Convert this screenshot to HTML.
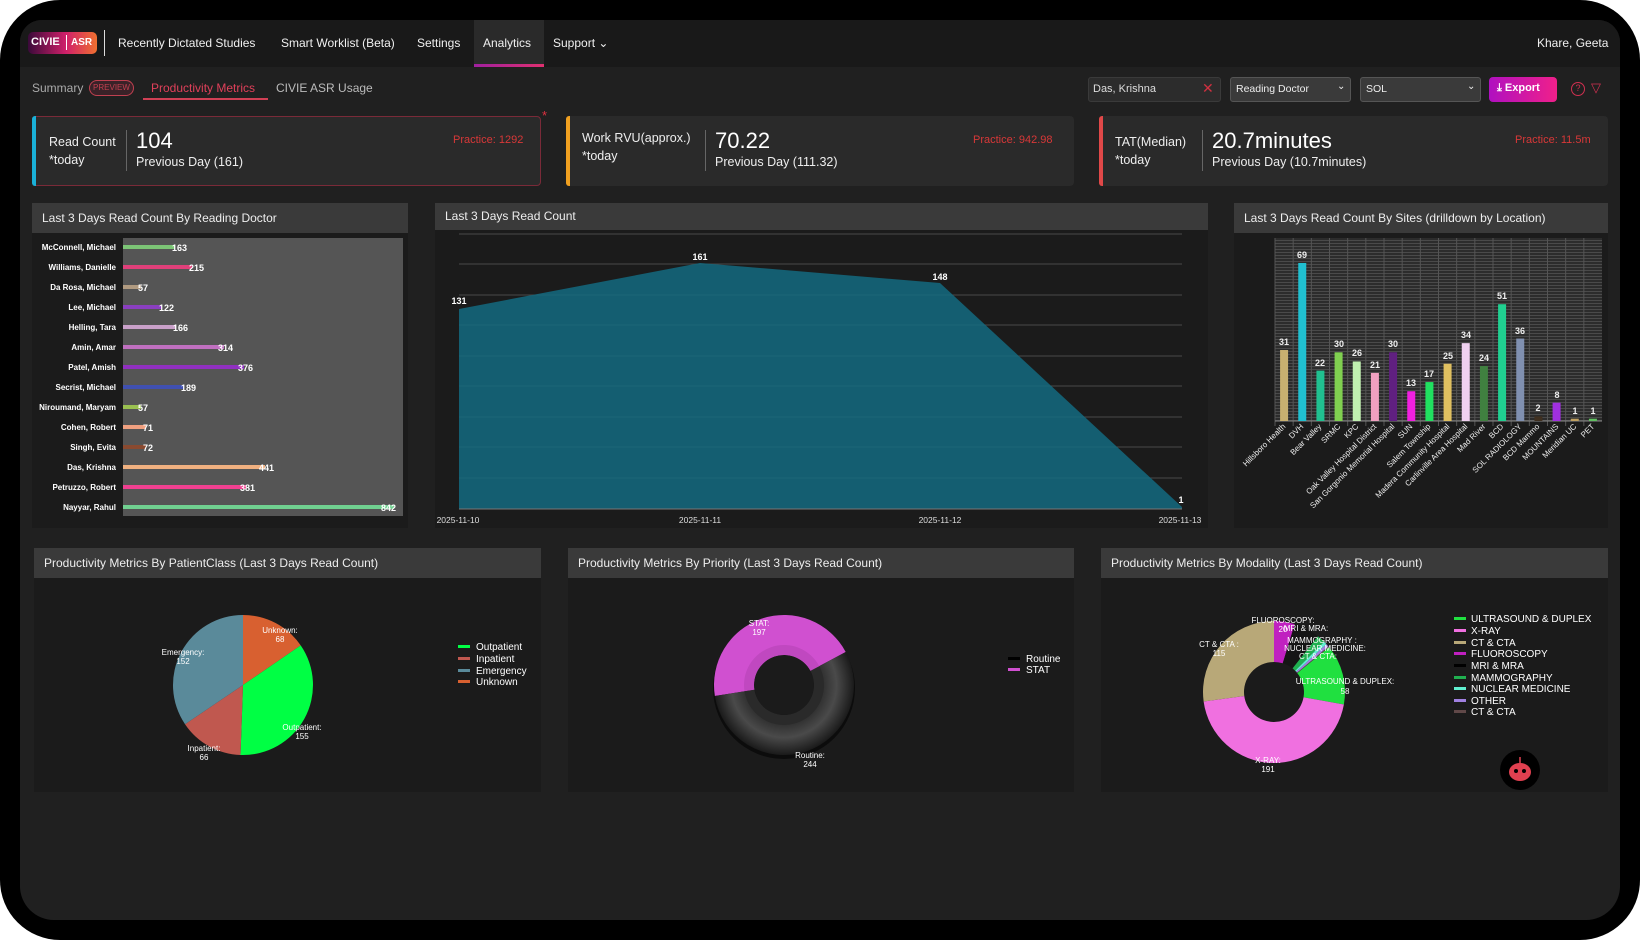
<!DOCTYPE html>
<html><head><meta charset="utf-8">
<style>
*{margin:0;padding:0;box-sizing:border-box}
html,body{width:1640px;height:940px;overflow:hidden;background:#fff;font-family:"Liberation Sans",sans-serif}
#frame{position:absolute;left:0;top:0;width:1640px;height:940px;background:#000;border-radius:60px}
#screen{position:absolute;left:20px;top:20px;width:1600px;height:900px;background:#202020;border-radius:22px 22px 34px 34px;overflow:hidden}
.a{position:absolute;white-space:nowrap}
#nav{position:absolute;left:20px;top:20px;width:1600px;height:47px;background:#191919;border-radius:22px 22px 0 0}
.nt{color:#f0f0f0;font-size:12px;top:36px}
.card{position:absolute;top:116px;height:70px;background:#2a2a2a;border-radius:4px}
.panel{position:absolute;background:#1b1b1b}
.ph{position:absolute;left:0;right:0;top:0;background:#3a3a3a;color:#eee;font-size:12px;padding-left:10px}
</style></head><body>
<div id="frame"></div>
<div id="screen"></div>
<div id="nav"></div>
<div class="a" style="left:28px;top:32px;width:69px;height:22px;border-radius:5px;background:linear-gradient(90deg,#3a0a3a,#d0206a 55%,#f07030);"></div>
<div class="a" style="left:31px;top:36px;color:#fff;font-size:11px;font-weight:bold">CIVIE</div>
<div class="a" style="left:66px;top:35px;width:1px;height:15px;background:#fff"></div>
<div class="a" style="left:71px;top:37px;color:#fff;font-size:10px;font-weight:bold">ASR</div>
<div class="a" style="left:104px;top:30px;width:1px;height:26px;background:#ddd"></div>
<div class="a nt" style="left:118px">Recently Dictated Studies</div>
<div class="a nt" style="left:281px">Smart Worklist (Beta)</div>
<div class="a nt" style="left:417px">Settings</div>
<div class="a" style="left:474px;top:20px;width:70px;height:47px;background:#2a2a2a"></div>
<div class="a" style="left:474px;top:64px;width:70px;height:3px;background:linear-gradient(90deg,#a020a0,#e03070)"></div>
<div class="a nt" style="left:483px">Analytics</div>
<div class="a nt" style="left:553px">Support &#8964;</div>
<div class="a nt" style="left:1537px;font-size:12px">Khare, Geeta</div>

<div class="a" style="left:32px;top:81px;color:#aaa;font-size:12px">Summary</div>
<div class="a" style="left:89px;top:80px;width:45px;height:16px;border:1px solid #c04050;border-radius:8px;background:#3a2228;color:#c04050;font-size:8px;line-height:14px;text-align:center">PREVIEW</div>
<div class="a" style="left:151px;top:81px;color:#e0405a;font-size:12px">Productivity Metrics</div>
<div class="a" style="left:143px;top:98px;width:125px;height:2px;background:#d04055"></div>
<div class="a" style="left:276px;top:81px;color:#bbb;font-size:12px">CIVIE ASR Usage</div>

<div class="a" style="left:1088px;top:77px;width:133px;height:25px;background:#2c2c2c;border:1px solid #3a3a3a;border-radius:3px"></div>
<div class="a" style="left:1093px;top:83px;color:#ddd;font-size:11px">Das, Krishna</div>
<div class="a" style="left:1202px;top:80px;color:#d03040;font-size:14px">&#10005;</div>
<div class="a" style="left:1230px;top:77px;width:121px;height:25px;background:#3a3a3a;border:1px solid #555;border-radius:3px"></div>
<div class="a" style="left:1236px;top:83px;color:#eee;font-size:10.5px">Reading Doctor</div>
<div class="a" style="left:1337px;top:81px;color:#eee;font-size:10px">&#8964;</div>
<div class="a" style="left:1360px;top:77px;width:121px;height:25px;background:#3a3a3a;border:1px solid #555;border-radius:3px"></div>
<div class="a" style="left:1366px;top:83px;color:#eee;font-size:10.5px">SOL</div>
<div class="a" style="left:1467px;top:81px;color:#eee;font-size:10px">&#8964;</div>
<div class="a" style="left:1489px;top:77px;width:68px;height:25px;background:linear-gradient(90deg,#b010c0,#f0208a);border-radius:4px"></div>
<div class="a" style="left:1497px;top:82px;color:#fff;font-size:11px;font-weight:bold">&#10515; Export</div>
<div class="a" style="left:1571px;top:82px;width:14px;height:14px;border:1.5px solid #d03050;border-radius:50%;color:#d03050;font-size:9px;text-align:center;line-height:11px">?</div>
<div class="a" style="left:1591px;top:80px;color:#d03050;font-size:13px">&#9661;</div>

<div class="card" style="left:32px;width:509px;border:1px solid #7a2a38"></div>
<div class="a" style="left:32px;top:116px;width:4px;height:70px;background:#1ab0d8;border-radius:3px 0 0 3px"></div>
<div class="a" style="left:542px;top:108px;color:#e03040;font-size:13px">*</div>
<div class="a" style="left:49px;top:135px;color:#eee;font-size:12.5px">Read Count</div>
<div class="a" style="left:49px;top:153px;color:#eee;font-size:12.5px">*today</div>
<div class="a" style="left:126px;top:130px;width:1px;height:41px;background:#666"></div>
<div class="a" style="left:136px;top:128px;color:#fff;font-size:22px">104</div>
<div class="a" style="left:136px;top:155px;color:#eee;font-size:12.5px">Previous Day (161)</div>
<div class="a" style="left:453px;top:134px;color:#d83838;font-size:11px">Practice: 1292</div>

<div class="card" style="left:566px;width:508px"></div>
<div class="a" style="left:566px;top:116px;width:4px;height:70px;background:#f0a020;border-radius:3px 0 0 3px"></div>
<div class="a" style="left:582px;top:131px;color:#eee;font-size:12.5px">Work RVU(approx.)</div>
<div class="a" style="left:582px;top:149px;color:#eee;font-size:12.5px">*today</div>
<div class="a" style="left:705px;top:130px;width:1px;height:41px;background:#666"></div>
<div class="a" style="left:715px;top:128px;color:#fff;font-size:22px">70.22</div>
<div class="a" style="left:715px;top:155px;color:#eee;font-size:12.5px">Previous Day (111.32)</div>
<div class="a" style="left:973px;top:134px;color:#d83838;font-size:11px">Practice: 942.98</div>

<div class="card" style="left:1099px;width:509px"></div>
<div class="a" style="left:1099px;top:116px;width:4px;height:70px;background:#e04848;border-radius:3px 0 0 3px"></div>
<div class="a" style="left:1115px;top:135px;color:#eee;font-size:12.5px">TAT(Median)</div>
<div class="a" style="left:1115px;top:153px;color:#eee;font-size:12.5px">*today</div>
<div class="a" style="left:1202px;top:130px;width:1px;height:41px;background:#666"></div>
<div class="a" style="left:1212px;top:128px;color:#fff;font-size:22px">20.7minutes</div>
<div class="a" style="left:1212px;top:155px;color:#eee;font-size:12.5px">Previous Day (10.7minutes)</div>
<div class="a" style="left:1515px;top:134px;color:#d83838;font-size:11px">Practice: 11.5m</div>

<div class="panel" style="left:32px;top:203px;width:376px;height:325px"><div class="ph" style="height:30px;line-height:30px">Last 3 Days Read Count By Reading Doctor</div></div>
<div class="panel" style="left:435px;top:203px;width:773px;height:325px"><div class="ph" style="height:27px;line-height:27px">Last 3 Days Read Count</div></div>
<div class="panel" style="left:1234px;top:203px;width:374px;height:325px"><div class="ph" style="height:30px;line-height:30px">Last 3 Days Read Count By Sites (drilldown by Location)</div></div>
<div class="panel" style="left:34px;top:548px;width:507px;height:244px"><div class="ph" style="height:30px;line-height:30px">Productivity Metrics By PatientClass (Last 3 Days Read Count)</div></div>
<div class="panel" style="left:568px;top:548px;width:506px;height:244px"><div class="ph" style="height:30px;line-height:30px">Productivity Metrics By Priority (Last 3 Days Read Count)</div></div>
<div class="panel" style="left:1101px;top:548px;width:507px;height:244px"><div class="ph" style="height:30px;line-height:30px">Productivity Metrics By Modality (Last 3 Days Read Count)</div></div>

<div class="a" style="left:1275px;top:238px;width:327px;height:183px;background:repeating-linear-gradient(180deg,#2c2c2c 0 2px,#4a4a4a 2px 3px)"></div>

<svg class="a" style="left:0;top:0" width="1640" height="940" font-family="Liberation Sans, sans-serif">
<defs>
<radialGradient id="rg" cx="784" cy="685" r="70" gradientUnits="userSpaceOnUse">
<stop offset="0.45" stop-color="#222"/><stop offset="0.75" stop-color="#4a4a4a"/><stop offset="1" stop-color="#1a1a1a"/>
</radialGradient>
</defs>
<rect x="123" y="238" width="280" height="278" fill="#555"/>
<g font-size="8" fill="#fff" text-anchor="end" font-weight="bold">
<text x="116" y="250">McConnell, Michael</text><text x="116" y="270">Williams, Danielle</text><text x="116" y="290">Da Rosa, Michael</text><text x="116" y="310">Lee, Michael</text><text x="116" y="330">Helling, Tara</text><text x="116" y="350">Amin, Amar</text><text x="116" y="370">Patel, Amish</text><text x="116" y="390">Secrist, Michael</text><text x="116" y="410">Niroumand, Maryam</text><text x="116" y="430">Cohen, Robert</text><text x="116" y="450">Singh, Evita</text><text x="116" y="470">Das, Krishna</text><text x="116" y="490">Petruzzo, Robert</text><text x="116" y="510">Nayyar, Rahul</text>
</g>
<g>
<rect x="123" y="245" width="52" height="4" fill="#7cc576"/><rect x="123" y="265" width="69" height="4" fill="#e0407a"/><rect x="123" y="285" width="18" height="4" fill="#b09a80"/><rect x="123" y="305" width="39" height="4" fill="#8a3fc0"/><rect x="123" y="325" width="53" height="4" fill="#c9a0c9"/><rect x="123" y="345" width="101" height="4" fill="#c070c0"/><rect x="123" y="365" width="121" height="4" fill="#9030c0"/><rect x="123" y="385" width="61" height="4" fill="#4050b0"/><rect x="123" y="405" width="18" height="4" fill="#9ac050"/><rect x="123" y="425" width="23" height="4" fill="#f0a080"/><rect x="123" y="445" width="23" height="4" fill="#8a4a30"/><rect x="123" y="465" width="142" height="4" fill="#f0b080"/><rect x="123" y="485" width="123" height="4" fill="#f04090"/><rect x="123" y="505" width="271" height="4" fill="#70d090"/>
</g>
<g font-size="9" fill="#fff" font-weight="bold">
<text x="172" y="251">163</text><text x="189" y="271">215</text><text x="138" y="291">57</text><text x="159" y="311">122</text><text x="173" y="331">166</text><text x="218" y="351">314</text><text x="238" y="371">376</text><text x="181" y="391">189</text><text x="138" y="411">57</text><text x="143" y="431">71</text><text x="143" y="451">72</text><text x="259" y="471">441</text><text x="240" y="491">381</text><text x="381" y="511">842</text>
</g>
<g stroke="#4a4a4a" stroke-width="1">
<line x1="459" x2="1182" y1="234" y2="234"/><line x1="459" x2="1182" y1="264" y2="264"/><line x1="459" x2="1182" y1="295" y2="295"/><line x1="459" x2="1182" y1="325" y2="325"/><line x1="459" x2="1182" y1="356" y2="356"/><line x1="459" x2="1182" y1="386" y2="386"/><line x1="459" x2="1182" y1="417" y2="417"/><line x1="459" x2="1182" y1="447" y2="447"/><line x1="459" x2="1182" y1="478" y2="478"/>
</g>
<path d="M459,309 L700,263 L940,283 L1182,507 L1182,509 L459,509 Z" fill="#136a80" fill-opacity="0.85"/>
<line x1="459" x2="1182" y1="509" y2="509" stroke="#777"/>
<g font-size="9" fill="#fff" text-anchor="middle" font-weight="bold">
<text x="459" y="304">131</text><text x="700" y="260">161</text><text x="940" y="280">148</text><text x="1181" y="503">1</text>
</g>
<g font-size="8.5" fill="#ddd" text-anchor="middle">
<text x="458" y="523">2025-11-10</text><text x="700" y="523">2025-11-11</text><text x="940" y="523">2025-11-12</text><text x="1180" y="523">2025-11-13</text>
</g>
<g stroke="#555" id="vlines"></g>
<line x1="1275" x2="1602" y1="421" y2="421" stroke="#888"/>
<g id="sitebars"></g>
<g font-size="8" fill="#eee" text-anchor="end">
<text transform="translate(1286,427) rotate(-45)">Hillsboro Health</text>
<text transform="translate(1304,427) rotate(-45)">DVH</text>
<text transform="translate(1322,427) rotate(-45)">Bear Valley</text>
<text transform="translate(1341,427) rotate(-45)">SRMC</text>
<text transform="translate(1359,427) rotate(-45)">KPC</text>
<text transform="translate(1377,427) rotate(-45)">Oak Valley Hospital District</text>
<text transform="translate(1395,427) rotate(-45)">San Gorgonio Memorial Hospital</text>
<text transform="translate(1413,427) rotate(-45)">SUN</text>
<text transform="translate(1431,427) rotate(-45)">Salem Township</text>
<text transform="translate(1450,427) rotate(-45)">Madera Community Hospital</text>
<text transform="translate(1468,427) rotate(-45)">Carlinville Area Hospital</text>
<text transform="translate(1486,427) rotate(-45)">Mad River</text>
<text transform="translate(1504,427) rotate(-45)">BCD</text>
<text transform="translate(1522,427) rotate(-45)">SOL RADIOLOGY</text>
<text transform="translate(1540,427) rotate(-45)">BCD Mammo</text>
<text transform="translate(1559,427) rotate(-45)">MOUNTAINS</text>
<text transform="translate(1577,427) rotate(-45)">Meridian UC</text>
<text transform="translate(1595,427) rotate(-45)">PET</text>
</g>
<g font-size="9" fill="#eee" text-anchor="middle" font-weight="bold">
<text x="1284" y="345">31</text><text x="1302" y="258">69</text><text x="1320" y="366">22</text><text x="1339" y="347">30</text><text x="1357" y="356">26</text><text x="1375" y="368">21</text><text x="1393" y="347">30</text><text x="1411" y="386">13</text><text x="1429" y="377">17</text><text x="1448" y="359">25</text><text x="1466" y="338">34</text><text x="1484" y="361">24</text><text x="1502" y="299">51</text><text x="1520" y="334">36</text><text x="1538" y="411">2</text><text x="1557" y="398">8</text><text x="1575" y="414">1</text><text x="1593" y="414">1</text>
</g>
<g id="pies"></g>
<g font-size="8" fill="#fff" text-anchor="middle">
<text x="280" y="633">Unknown:</text><text x="280" y="642">68</text>
<text x="183" y="655">Emergency:</text><text x="183" y="664">152</text>
<text x="302" y="730">Outpatient:</text><text x="302" y="739">155</text>
<text x="204" y="751">Inpatient:</text><text x="204" y="760">66</text>
<text x="759" y="626">STAT:</text><text x="759" y="635">197</text>
<text x="810" y="758">Routine:</text><text x="810" y="767">244</text>
<text x="1283" y="623">FLUOROSCOPY:</text><text x="1283" y="632">20</text>
<text x="1306" y="631">MRI &amp; MRA:</text>
<text x="1322" y="643">MAMMOGRAPHY :</text>
<text x="1325" y="651">NUCLEAR MEDICINE:</text>
<text x="1318" y="659">CT &amp; CTA:</text>
<text x="1219" y="647">CT &amp; CTA :</text><text x="1219" y="656">115</text>
<text x="1345" y="684">ULTRASOUND &amp; DUPLEX:</text><text x="1345" y="694">58</text>
<text x="1268" y="763">X-RAY:</text><text x="1268" y="772">191</text>
</g>
<g font-size="10" fill="#fff">
<rect x="458" y="645" width="12" height="3" fill="#00ff44"/><text x="476" y="650">Outpatient</text>
<rect x="458" y="657" width="12" height="3" fill="#c0584f"/><text x="476" y="662">Inpatient</text>
<rect x="458" y="669" width="12" height="3" fill="#5a8a9a"/><text x="476" y="674">Emergency</text>
<rect x="458" y="680" width="12" height="3" fill="#d86030"/><text x="476" y="685">Unknown</text>
<rect x="1008" y="657" width="12" height="3" fill="#000"/><text x="1026" y="662">Routine</text>
<rect x="1008" y="668" width="12" height="3" fill="#d050d0"/><text x="1026" y="673">STAT</text>
</g>
<g font-size="10" fill="#fff">
<rect x="1454" y="617" width="12" height="3" fill="#20e040"/><text x="1471" y="622">ULTRASOUND &amp; DUPLEX</text>
<rect x="1454" y="629" width="12" height="3" fill="#f070e0"/><text x="1471" y="634">X-RAY</text>
<rect x="1454" y="641" width="12" height="3" fill="#b8a878"/><text x="1471" y="646">CT &amp; CTA</text>
<rect x="1454" y="652" width="12" height="3" fill="#c020c0"/><text x="1471" y="657">FLUOROSCOPY</text>
<rect x="1454" y="664" width="12" height="3" fill="#000"/><text x="1471" y="669">MRI &amp; MRA</text>
<rect x="1454" y="676" width="12" height="3" fill="#20b050"/><text x="1471" y="681">MAMMOGRAPHY</text>
<rect x="1454" y="687" width="12" height="3" fill="#60f0d0"/><text x="1471" y="692">NUCLEAR MEDICINE</text>
<rect x="1454" y="699" width="12" height="3" fill="#a080e0"/><text x="1471" y="704">OTHER</text>
<rect x="1454" y="710" width="12" height="3" fill="#604848"/><text x="1471" y="715">CT &amp; CTA</text>
</g>
<circle cx="1520" cy="770" r="20" fill="#000"/>
<ellipse cx="1520" cy="772" rx="11" ry="9" fill="#e04050"/>
<circle cx="1516" cy="771" r="2" fill="#000"/><circle cx="1524" cy="771" r="2" fill="#000"/>
<line x1="1520" y1="763" x2="1520" y2="757" stroke="#e04050" stroke-width="1.5"/>
</svg>
<script>
const NS="http://www.w3.org/2000/svg";
function el(p,tag,attrs){const e=document.createElementNS(NS,tag);for(const k in attrs)e.setAttribute(k,attrs[k]);p.appendChild(e);return e;}
const vals=[31,69,22,30,26,21,30,13,17,25,34,24,51,36,2,8,1,1];
const cols=["#c8b070","#20c0d0","#20c090","#80d050","#c0f0b0","#f0a0c0","#602080","#f020e0","#20e060","#e0c060","#f0d0f0","#408040","#20d090","#8090b0","#403020","#a030e0","#c0a060","#60c060"];
const sb=document.getElementById("sitebars"),vl=document.getElementById("vlines");
const slot=327/18;
for(let i=0;i<18;i++){const cx=1275+slot*(i+0.5);const h=vals[i]*2.29;
el(sb,"rect",{x:cx-4,y:421-h,width:8,height:h,fill:cols[i]});
el(vl,"line",{x1:1275+slot*i,x2:1275+slot*i,y1:238,y2:426});}
const pg=document.getElementById("pies");
function arc(cx,cy,r,r0,a0,a1,fill){const rad=a=>(a-90)*Math.PI/180;
const p=(rr,a)=>[cx+rr*Math.cos(rad(a)),cy+rr*Math.sin(rad(a))];
const lg=(a1-a0)>180?1:0;const [x1,y1]=p(r,a0),[x2,y2]=p(r,a1);
let d;if(r0>0){const [x3,y3]=p(r0,a1),[x4,y4]=p(r0,a0);
d=`M${x1},${y1}A${r},${r} 0 ${lg} 1 ${x2},${y2}L${x3},${y3}A${r0},${r0} 0 ${lg} 0 ${x4},${y4}Z`;}
else d=`M${cx},${cy}L${x1},${y1}A${r},${r} 0 ${lg} 1 ${x2},${y2}Z`;
el(pg,"path",{d:d,fill:fill});}
function pie(cx,cy,r,r0,start,data){let tot=data.reduce((s,d)=>s+d[0],0);let a=start;
for(const [v,c] of data){const s=v/tot*360;arc(cx,cy,r,r0,a,a+s,c);a+=s;}}
pie(243,685,70,0,0,[[68,"#d86030"],[155,"#00ff44"],[66,"#c0584f"],[152,"#5a8a9a"]]);
el(pg,"circle",{cx:784,cy:688,r:71,fill:"#0c0c0c"});
pie(784,685,70,30,-99,[[197,"#d050d0"],[244,"url(#rg)"]]);
el(pg,"circle",{cx:784,cy:685,r:30,fill:"#1b1b1b"});
arc(784,685,40,30,-99,62,"#c048c0");
arc(784,685,40,30,62,261,"#2a2a2a");
pie(1274,692,71,30,0,[[20,"#c020c0"],[25,"#151515"],[8,"#20b050"],[3,"#60f0d0"],[3,"#a080e0"],[1,"#604848"],[58,"#20e040"],[191,"#f070e0"],[115,"#b8a878"]]);
</script>
</body></html>
